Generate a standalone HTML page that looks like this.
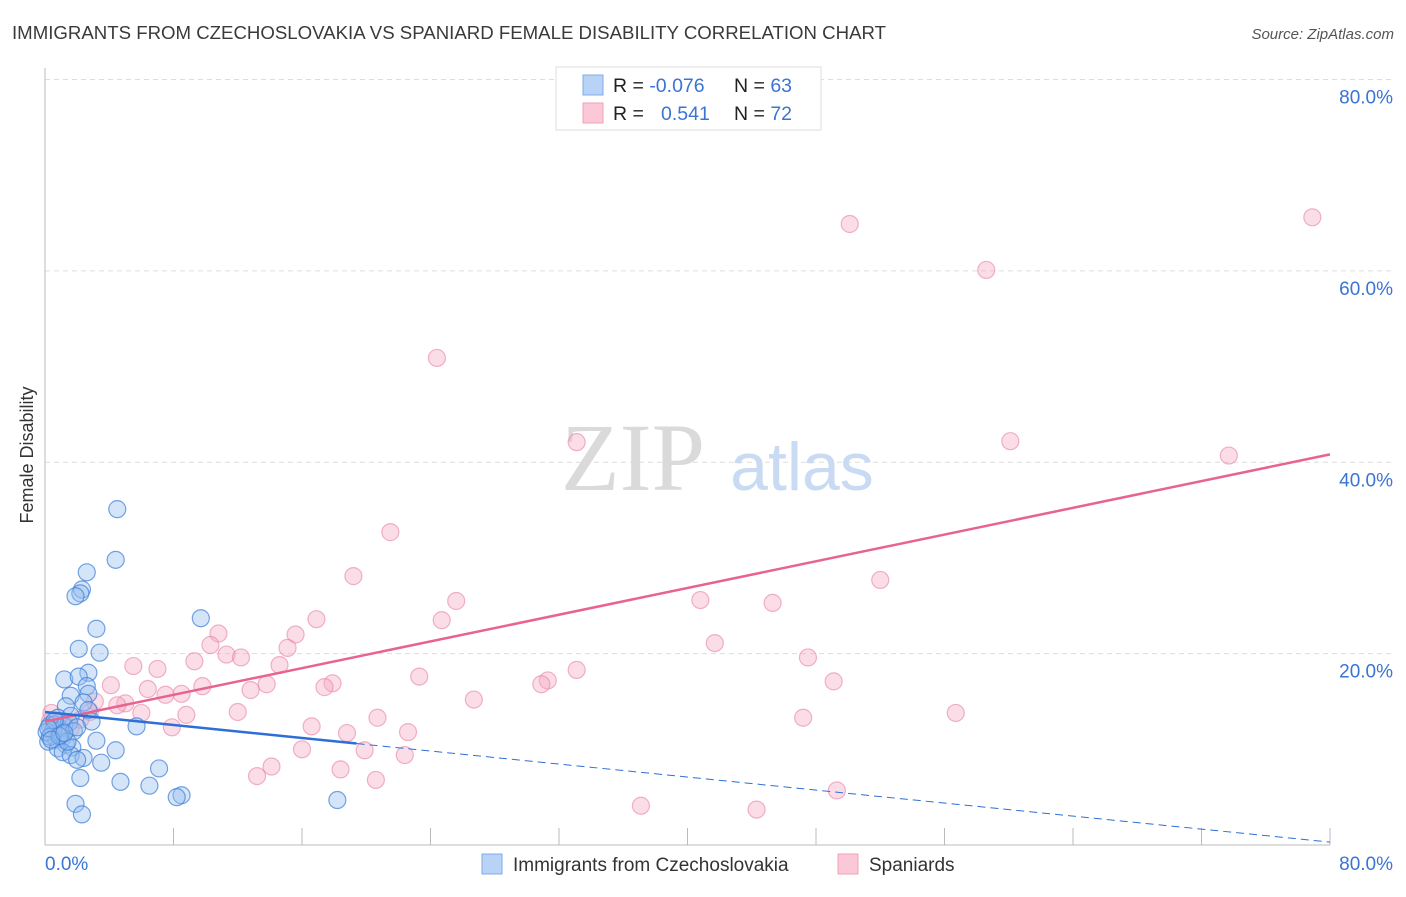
<!DOCTYPE html>
<html><head><meta charset="utf-8"><style>
body{margin:0;background:#fff;font-family:"Liberation Sans",sans-serif;}
svg text{font-family:"Liberation Sans",sans-serif;}
</style></head><body>
<svg id="chart" width="1406" height="892" xmlns="http://www.w3.org/2000/svg">
<text x="12" y="39" font-size="18" fill="#3a3a3a" textLength="874" lengthAdjust="spacingAndGlyphs">IMMIGRANTS FROM CZECHOSLOVAKIA VS SPANIARD FEMALE DISABILITY CORRELATION CHART</text>
<text x="1394" y="39" font-size="15" font-style="italic" fill="#555" text-anchor="end">Source: ZipAtlas.com</text>
<g id="grid"></g>
<g>
<text x="633" y="490" font-size="96" style="font-family:'Liberation Serif',serif" fill="#dadada" text-anchor="middle">ZIP</text>
<text x="802" y="490" font-size="68" fill="#c9daf3" text-anchor="middle">atlas</text>
</g>
<text transform="translate(33,455) rotate(-90)" font-size="18" fill="#333" text-anchor="middle">Female Disability</text>
<g id="marks"></g>
<g>
<rect x="556" y="67" width="265" height="63" fill="#fff" stroke="#ddd"/>
<rect x="583" y="75" width="20" height="20" fill="#b8d3f6" stroke="#7eaee8"/>
<rect x="583" y="103" width="20" height="20" fill="#fbc8d7" stroke="#f0a0b8"/>
<text x="613" y="92" font-size="19.5" fill="#222">R = <tspan fill="#3a74d4">-0.076</tspan></text>
<text x="734" y="92" font-size="19.5" fill="#222">N = <tspan fill="#3a74d4">63</tspan></text>
<text x="613" y="120" font-size="19.5" fill="#222">R = <tspan fill="#3a74d4" x="661">0.541</tspan></text>
<text x="734" y="120" font-size="19.5" fill="#222">N = <tspan fill="#3a74d4">72</tspan></text>
</g>
<g>
<rect x="482" y="854" width="20" height="20" fill="#b8d3f6" stroke="#7eaee8"/>
<text x="513" y="871" font-size="19" fill="#333">Immigrants from Czechoslovakia</text>
<rect x="838" y="854" width="20" height="20" fill="#fbc8d7" stroke="#f0a0b8"/>
<text x="869" y="871" font-size="19" fill="#333">Spaniards</text>
</g>
</svg>
<script>
const blueX=[4.5,4.4,2.6,2.3,2.2,1.9,9.7,3.2,2.1,3.4,1.2,2.7,2.1,2.6,1.6,2.7,1.3,2.4,2.7,0.8,1.6,2.9,5.7,0.3,0.9,0.4,0.7,1.1,0.2,1.3,0.8,3.2,1.7,4.4,1.1,1.6,2.4,2.0,3.5,7.1,2.2,4.7,6.5,8.5,8.2,18.2,1.9,2.3,0.6,1.2,0.5,0.1,0.3,1.0,1.5,0.6,0.2,1.8,1.4,0.9,2.0,0.4,1.2];
const blueY=[35.1,29.8,28.5,26.7,26.3,26.0,23.7,22.6,20.5,20.1,17.3,18.0,17.6,16.6,15.6,15.8,14.5,14.9,14.1,13.3,13.5,12.9,12.4,12.5,12.0,11.5,11.0,11.2,10.8,10.5,10.1,10.9,10.2,9.9,9.7,9.4,9.1,8.9,8.6,8.0,7.0,6.6,6.2,5.2,5.0,4.7,4.3,3.2,12.6,12.4,12.0,11.8,11.3,11.6,12.8,13.0,12.2,11.9,10.8,11.4,12.3,11.0,11.7];
const pinkX=[78.9,50.1,58.6,24.4,33.1,60.1,73.7,21.5,19.2,52.0,25.6,40.8,45.3,16.9,24.7,10.8,15.6,41.7,10.3,15.1,11.3,12.2,47.5,9.3,14.6,5.5,7.0,33.1,23.3,31.3,30.9,17.9,17.4,13.8,4.1,9.8,6.4,8.5,7.5,12.8,49.1,26.7,5.0,3.1,4.5,6.0,12.0,8.8,56.7,20.7,47.2,7.9,16.6,18.8,22.6,1.6,0.4,16.0,19.9,22.4,14.1,18.4,13.2,20.6,49.3,37.1,44.3,2.2,0.8,2.8,1.2,0.3];
const pinkY=[65.6,64.9,60.1,50.9,42.1,42.2,40.7,32.7,28.1,27.7,25.5,25.6,25.3,23.6,23.5,22.1,22.0,21.1,20.9,20.6,19.9,19.6,19.6,19.2,18.8,18.7,18.4,18.3,17.6,17.2,16.8,16.9,16.5,16.8,16.7,16.6,16.3,15.8,15.7,16.2,17.1,15.2,14.8,15.0,14.6,13.8,13.9,13.6,13.8,13.3,13.3,12.3,12.4,11.7,11.8,12.2,13.8,10.0,9.9,9.4,8.2,7.9,7.2,6.8,5.7,4.1,3.7,13.1,11.5,13.9,12.6,12.9];
const blueFit=[13.9,-0.17];
const pinkFit=[12.9,0.349];
const blueSolidEnd=[19.4];
const yTicks=[20,40,60,80];
const xTickLabels=["0.0%","80.0%"];
const NS="http://www.w3.org/2000/svg";
const sx=v=>45+v*1285/80, sy=v=>845-v*765.5/80;
const svg=document.getElementById('chart'),grid=document.getElementById('grid'),marks=document.getElementById('marks');
function mk(tag,attrs,parent){const e=document.createElementNS(NS,tag);for(const k in attrs)e.setAttribute(k,attrs[k]);parent.appendChild(e);return e;}
yTicks.forEach(t=>{
 const l=mk('line',{x1:45,x2:1394,y1:sy(t),y2:sy(t),stroke:'#ddd','stroke-dasharray':'5,4'},grid);
 
 
 const tx=mk('text',{x:1393,y:sy(t)+24,'font-size':19,fill:'#3a74d4','text-anchor':'end'},grid);tx.textContent=t.toFixed(1)+'%';
 
 
});
const ax=mk('line',{x1:45,x2:45,y1:68,y2:845,stroke:'#bbb'},grid);


const bx=mk('line',{x1:45,x2:1330,y1:845,y2:845,stroke:'#bbb'},grid);


for(let i=0;i<=10;i++){const t=mk('line',{x1:sx(i*8),x2:sx(i*8),y1:828,y2:845,stroke:'#bbb'},grid);
 
 }
const xl0=mk('text',{x:45,y:870,'font-size':19,fill:'#3a74d4'},grid);xl0.textContent=xTickLabels[0];


const xl1=mk('text',{x:1393,y:870,'font-size':19,fill:'#3a74d4','text-anchor':'end'},grid);xl1.textContent=xTickLabels[1];


pinkX.forEach((x,i)=>{const c=mk('circle',{cx:sx(x),cy:sy(pinkY[i]),r:8.5,fill:'rgba(245,170,195,0.4)',stroke:'rgba(232,130,165,0.6)','stroke-width':1.2},marks);
 
 });
blueX.forEach((x,i)=>{const c=mk('circle',{cx:sx(x),cy:sy(blueY[i]),r:8.5,fill:'rgba(150,190,240,0.4)',stroke:'rgba(60,125,215,0.7)','stroke-width':1.2},marks);
 
 });
const f=(p,x)=>p[0]+p[1]*x;
const pl=mk('line',{x1:sx(0),y1:sy(f(pinkFit,0)),x2:sx(80),y2:sy(f(pinkFit,80)),stroke:'#e8638f','stroke-width':2.5},marks);


const bl=mk('line',{x1:sx(0),y1:sy(f(blueFit,0)),x2:sx(blueSolidEnd[0]),y2:sy(f(blueFit,blueSolidEnd[0])),stroke:'#2e6fd6','stroke-width':2.5},marks);


const bd=mk('line',{x1:sx(blueSolidEnd[0]),y1:sy(f(blueFit,blueSolidEnd[0])),x2:sx(80),y2:sy(f(blueFit,80)),stroke:'#2e6fd6','stroke-width':1,'stroke-dasharray':'8,5'},marks);


</script>
</body></html>
